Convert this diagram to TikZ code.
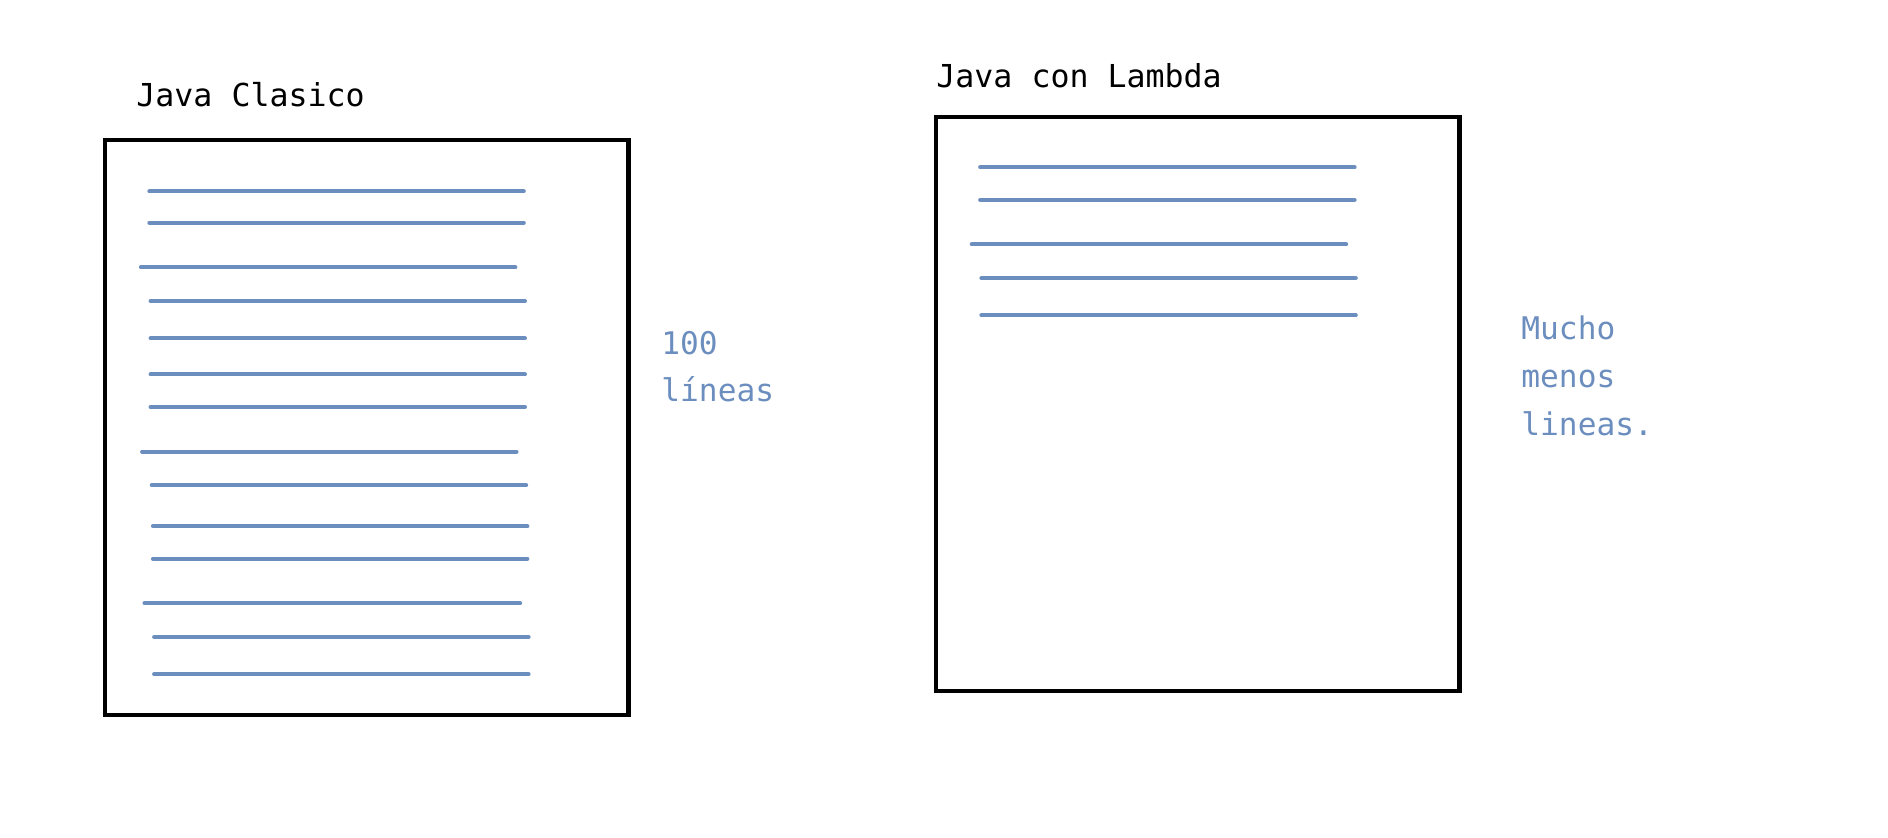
\documentclass[tikz,border=0pt]{standalone}
\usepackage{fontspec}
\setmonofont{DejaVu Sans Mono}
\definecolor{lineblue}{HTML}{6C8EBF}
\begin{document}
\begin{tikzpicture}[x=0.5pt,y=-0.5pt,
  frame/.style={draw=black,line width=2.3pt,fill=white},
  codeline/.style={draw=lineblue,line width=2pt,line cap=round},
  title/.style={anchor=base west,inner sep=0pt,font=\ttfamily\fontsize{15.8}{19}\selectfont,text=black},
  note/.style={anchor=base west,inner sep=0pt,font=\ttfamily\fontsize{15.6}{19}\selectfont,text=lineblue}]
\useasboundingbox (0,0) rectangle (1888,838);
% left box
\path[frame] (105,140) rectangle (628.5,715);
\coordinate (lb) at (105,140);
\foreach \y/\a/\b in {159/124/435,185/124/435,222/117/428,250/125/436,281/125/436,311/125/436,338/125/436,375/118/429,403/126/437,437/127/438,464/127/438,501/120/432,529/128/439,560/128/439}{
  \draw[codeline] ({\a*1.2041},{\y*1.2041}) -- ({\b*1.2041},{\y*1.2041});
}
% right box
\path[frame] (936,117) rectangle (1459.5,691);
\foreach \y/\a/\b in {139/814/1125,166/814/1125,203/807/1118,231/815/1126,262/815/1126}{
  \draw[codeline] ({\a*1.2041},{\y*1.2041}) -- ({\b*1.2041},{\y*1.2041});
}
% titles
\node[title] (tclasico) at (136,107) {Java Clasico};
\node[title] (tlambda) at (936,88) {Java con Lambda};
% notes
\node[note] (n1a) at (661,355) {100};
\node[note] (n1b) at (661,402) {líneas};
\node[note] (n2a) at (1521,340) {Mucho};
\node[note] (n2b) at (1521,388) {menos};
\node[note] (n2c) at (1521,436) {lineas.};
\end{tikzpicture}
\end{document}
